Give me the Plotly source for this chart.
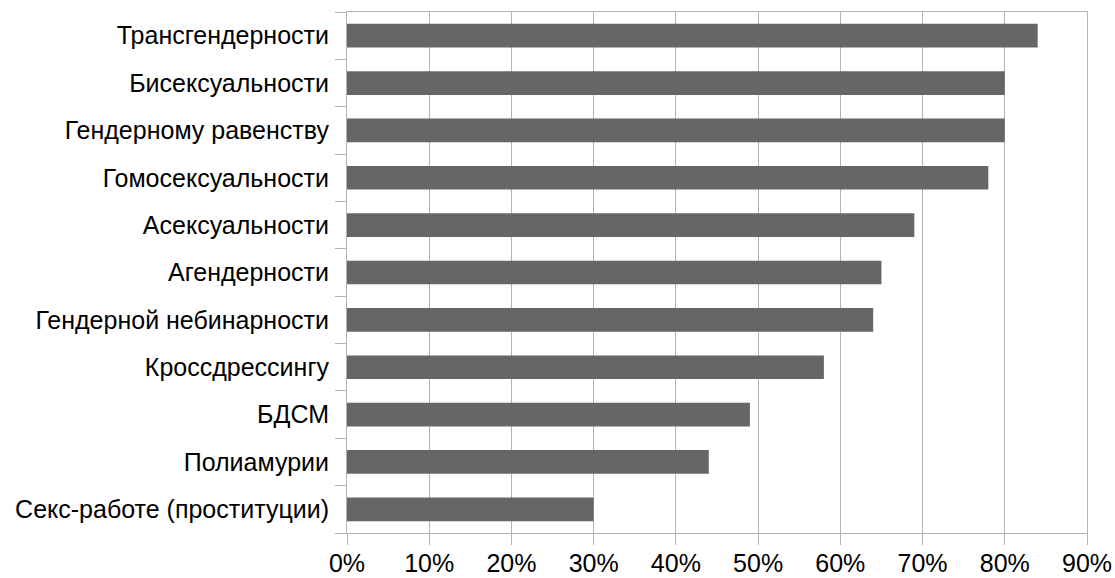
import plotly.graph_objects as go

# Share of respondents with a positive attitude, by topic (top to bottom)
categories = [
    "Трансгендерности",
    "Бисексуальности",
    "Гендерному равенству",
    "Гомосексуальности",
    "Асексуальности",
    "Агендерности",
    "Гендерной небинарности",
    "Кроссдрессингу",
    "БДСМ",
    "Полиамурии",
    "Секс-работе (проституции)",
]
values = [0.84, 0.80, 0.80, 0.78, 0.69, 0.65, 0.64, 0.58, 0.49, 0.44, 0.30]
x_ticks = [0.0, 0.1, 0.2, 0.3, 0.4, 0.5, 0.6, 0.7, 0.8, 0.9]
x_tick_labels = ["0%", "10%", "20%", "30%", "40%", "50%", "60%", "70%", "80%", "90%"]

GRID = "#b3b3b3"
FONT = dict(family="Liberation Sans, Arial, sans-serif", size=25, color="#000000")

fig = go.Figure(
    go.Bar(
        x=values,
        y=categories,
        orientation="h",
        width=0.5,
        marker=dict(color="#666666", line=dict(width=0)),
        hoverinfo="x+y",
    )
)

fig.update_layout(
    width=1115,
    height=578,
    margin=dict(l=347, r=28, t=12, b=45),
    paper_bgcolor="#ffffff",
    plot_bgcolor="#ffffff",
    font=FONT,
    showlegend=False,
    bargap=0.5,
)

fig.update_xaxes(
    range=[0, 0.9],
    tickvals=x_ticks,
    ticktext=x_tick_labels,
    automargin=False,
    showgrid=True,
    gridcolor=GRID,
    gridwidth=1,
    zeroline=False,
    showline=True,
    linecolor=GRID,
    linewidth=1,
    mirror=True,
    ticks="outside",
    ticklen=11,
    tickcolor=GRID,
    tickfont=FONT,
    ticklabelstandoff=-3,
)

fig.update_yaxes(
    categoryorder="array",
    categoryarray=categories[::-1],
    automargin=False,
    tickson="boundaries",
    showgrid=False,
    showline=True,
    linecolor=GRID,
    linewidth=1,
    mirror=True,
    ticks="outside",
    ticklen=11,
    tickcolor=GRID,
    tickfont=FONT,
    ticklabelstandoff=12,
)

fig.write_html("out.html")
